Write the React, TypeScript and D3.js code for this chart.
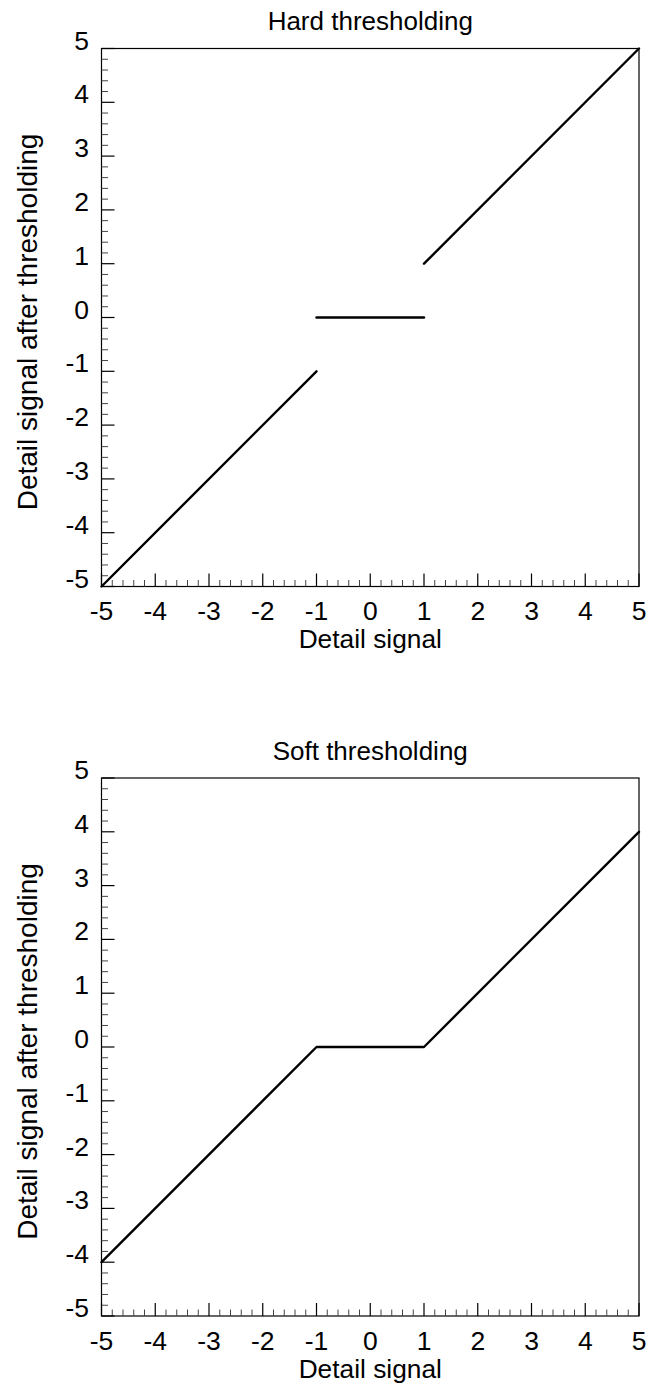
import React from "react";
import * as d3 from "d3";

// Threshold functions sampled at their breakpoints (threshold = 1)
const hardSegments: [number, number][][] = [
  [[-5, -5], [-1, -1]],
  [[-1, 0], [1, 0]],
  [[1, 1], [5, 5]],
];
const softSegments: [number, number][][] = [
  [[-5, -4], [-1, 0], [1, 0], [5, 4]],
];
const tickValues = [-5, -4, -3, -2, -1, 0, 1, 2, 3, 4, 5];
const panelTitles = ["Hard thresholding", "Soft thresholding"];
const xTitle = "Detail signal";
const yTitle = "Detail signal after thresholding";

const W = 649;
const H = 1391;
const left = 101.5;
const right = 639;
const top0 = 48.5;
const bottom0 = 586.5;
const panelOffset = 729.5;
const FONT = "'Liberation Sans', Arial, Helvetica, sans-serif";

function Panel({ title, segments, dy }: { title: string; segments: [number, number][][]; dy: number }) {
  const x = d3.scaleLinear().domain([-5, 5]).range([left, right]);
  const y = d3.scaleLinear().domain([-5, 5]).range([bottom0 + dy, top0 + dy]);
  const line = d3
    .line<[number, number]>()
    .x((d) => x(d[0]))
    .y((d) => y(d[1]));
  const minor = d3.range(-50, 51, 2).map((v) => v / 10).filter((v) => Math.abs(Math.round(v) - v) > 1e-6);
  const yb = y(-5);
  const cx = (left + right) / 2;
  return (
    <g>
      <text x={cx} y={30 + dy} textAnchor="middle" fontSize={26} fontFamily={FONT} fill="#000">
        {title}
      </text>
      {/* frame */}
      <rect x={left} y={y(5)} width={right - left} height={yb - y(5)} fill="none" stroke="#000" strokeWidth={1.2} />
      {/* minor ticks */}
      {minor.map((v) => (
        <g key={"m" + v}>
          <line x1={x(v)} x2={x(v)} y1={yb} y2={yb - 6.5} stroke="#444" strokeWidth={1} />
          <line x1={left} x2={left + 6.5} y1={y(v)} y2={y(v)} stroke="#444" strokeWidth={1} />
        </g>
      ))}
      {/* major ticks and labels */}
      {tickValues.map((v) => (
        <g key={"t" + v}>
          <line x1={x(v)} x2={x(v)} y1={yb} y2={yb - 13} stroke="#000" strokeWidth={1.2} />
          <line x1={left} x2={left + 13} y1={y(v)} y2={y(v)} stroke="#000" strokeWidth={1.2} />
          <text x={x(v)} y={620 + dy} textAnchor="middle" fontSize={26.5} fontFamily={FONT} fill="#000">
            {v}
          </text>
          <text x={89} y={y(v) + 1} textAnchor="end" fontSize={26.5} fontFamily={FONT} fill="#000">
            {v}
          </text>
        </g>
      ))}
      {segments.map((s, i) => (
        <path key={"s" + i} d={line(s) || ""} fill="none" stroke="#000" strokeWidth={2.4} strokeLinecap="round" strokeLinejoin="round" />
      ))}
      <text x={cx} y={648 + dy} textAnchor="middle" fontSize={26.3} fontFamily={FONT} fill="#000">
        {xTitle}
      </text>
      <text
        transform={`translate(36.5,${322 + dy}) rotate(-90)`}
        textAnchor="middle"
        fontSize={28}
        fontFamily={FONT}
        fill="#000"
      >
        {yTitle}
      </text>
    </g>
  );
}

export default function App() {
  return (
    <svg
      width={W}
      height={H}
      viewBox={`0 0 ${W} ${H}`}
      style={{ position: "absolute", left: 0, top: 0, background: "#fff" }}
    >
      <rect width={W} height={H} fill="#fff" />
      <Panel title={panelTitles[0]} segments={hardSegments} dy={0} />
      <Panel title={panelTitles[1]} segments={softSegments} dy={panelOffset} />
    </svg>
  );
}
